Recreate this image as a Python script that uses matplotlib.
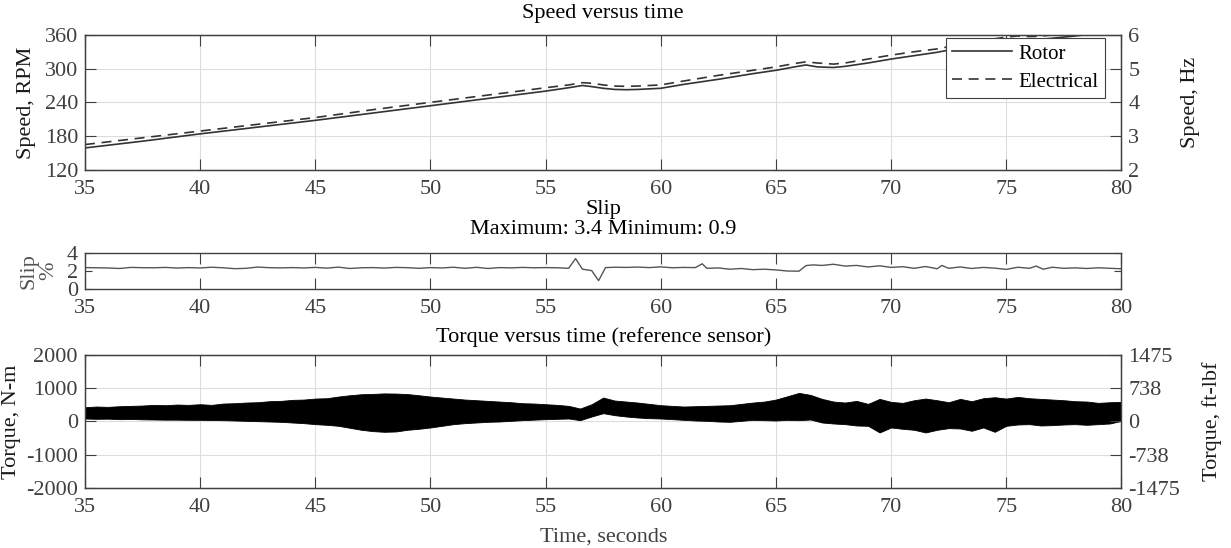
import matplotlib.pyplot as plt
import numpy as np

plt.rcParams['font.family'] = ['Liberation Serif', 'DejaVu Serif']
plt.rcParams['font.size'] = 16
plt.rcParams['axes.unicode_minus'] = False

# speed versus time (RPM)
t_speed = [35, 37.5, 40, 42.5, 45, 47.5, 50, 52.5, 55, 56, 56.6, 57.0, 57.5, 58.0, 58.5, 59.0,
           60, 61, 62.5, 64, 65, 65.8, 66.3, 66.8, 67.5, 68, 69, 70, 71, 72, 73, 74, 75, 75.5,
           76, 76.5, 77, 78, 79, 80]
rotor = [159, 171, 184, 196, 208, 221, 234, 247, 260, 266, 270, 268, 265, 263, 262.5, 263,
         265, 272, 281, 291, 297, 303, 306.5, 303, 302, 304, 310, 317, 323, 329, 337, 344, 350, 352,
         351, 352, 354, 358, 363, 368]
electrical = [165, 177, 189, 201, 213, 227, 240, 253, 266, 271, 275, 274, 271, 269, 268.5, 269,
              271, 278, 288, 297, 303, 309, 312, 310, 308, 310, 317, 324, 330, 335, 343, 350, 356, 358,
              357, 357.5, 360, 364, 369, 374]

# slip in percent
t_slip = [35.0, 35.5, 36.0, 36.5, 37.0, 37.5, 38.0, 38.5, 39.0, 39.5, 40.0, 40.5, 41.0, 41.5,
          42.0, 42.5, 43.0, 43.5, 44.0, 44.5, 45.0, 45.5, 46.0, 46.5, 47.0, 47.5, 48.0, 48.5,
          49.0, 49.5, 50.0, 50.5, 51.0, 51.5, 52.0, 52.5, 53.0, 53.5, 54.0, 54.5, 55.0, 55.5,
          56.0, 56.3, 56.6, 57.0, 57.3, 57.6, 58.0, 58.5, 59.0, 59.5, 60.0, 60.5, 61.0, 61.5,
          61.8, 62.0, 62.5, 63.0, 63.5, 64.0, 64.5, 65.0, 65.5, 66.0, 66.3, 66.6, 67.0, 67.5,
          68.0, 68.5, 69.0, 69.5, 70.0, 70.5, 71.0, 71.5, 72.0, 72.2, 72.5, 73.0, 73.5, 74.0,
          74.5, 75.0, 75.5, 76.0, 76.3, 76.6, 77.0, 77.5, 78.0, 78.5, 79.0, 79.5, 80.0]
slip = [2.38, 2.36, 2.34, 2.28, 2.40, 2.37, 2.36, 2.40, 2.33, 2.38, 2.34, 2.42, 2.36, 2.26,
        2.30, 2.44, 2.37, 2.35, 2.38, 2.34, 2.40, 2.32, 2.43, 2.28, 2.36, 2.38, 2.33, 2.40,
        2.37, 2.30, 2.38, 2.34, 2.42, 2.30, 2.41, 2.28, 2.38, 2.35, 2.40, 2.36, 2.38, 2.36,
        2.30, 3.38, 2.20, 2.05, 0.93, 2.38, 2.42, 2.40, 2.44, 2.38, 2.46, 2.36, 2.40, 2.38,
        2.80, 2.30, 2.34, 2.20, 2.28, 2.15, 2.20, 2.12, 2.00, 1.98, 2.60, 2.68, 2.62, 2.75,
        2.55, 2.62, 2.45, 2.58, 2.40, 2.48, 2.30, 2.50, 2.25, 2.62, 2.30, 2.45, 2.28, 2.40,
        2.32, 2.18, 2.42, 2.30, 2.55, 2.20, 2.42, 2.30, 2.35, 2.28, 2.36, 2.30, 2.25]

# torque band (upper / lower envelope of the oscillation, N-m), every 0.5 s from 35 to 80
t_torque = np.arange(35.0, 80.01, 0.5)
torque_hi = [430, 450, 440, 460, 470, 480, 500, 490, 510, 500, 520, 500, 540, 550, 570, 580,
             610, 620, 650, 660, 690, 700, 750, 790, 820, 830, 845, 840, 825, 790, 750, 720,
             690, 660, 640, 620, 600, 580, 550, 540, 520, 500, 470, 390, 520, 720, 630, 600,
             570, 530, 490, 470, 450, 460, 470, 480, 490, 530, 570, 600, 660, 760, 860, 800,
             680, 600, 570, 620, 530, 680, 590, 560, 640, 690, 640, 580, 680, 610, 700, 730,
             690, 740, 700, 680, 660, 640, 610, 600, 560, 580, 590]
torque_lo = [90, 80, 85, 70, 75, 65, 60, 55, 55, 50, 50, 45, 40, 30, 20, 10,
             0, -10, -30, -50, -80, -100, -130, -190, -250, -290, -310, -300, -250, -220, -180, -130,
             -80, -50, -30, -10, 0, 20, 40, 55, 70, 80, 90, 40, 150, 250, 190, 150,
             120, 100, 90, 70, 50, 30, 20, 0, -10, 20, 50, 40, 30, 50, 40, 60,
             -30, -60, -80, -120, -130, -330, -180, -220, -250, -330, -250, -200, -210, -280, -180, -310,
             -130, -90, -80, -120, -110, -90, -80, -100, -80, -60, 20]

xticks = [35, 40, 45, 50, 55, 60, 65, 70, 75, 80]
axcol = '#404040'
linecol = '#333333'
L, W = 0.069, 0.842


def style(ax, grid=True, right=False):
    ax.set_xlim(35, 80)
    ax.set_xticks(xticks)
    ax.tick_params(direction='in', length=8, width=0.8, top=True, right=right,
                   colors=axcol, labelcolor=axcol, labelsize=16)
    ax.tick_params(axis='x', pad=7)
    ax.tick_params(axis='y', pad=5)
    for s in ax.spines.values():
        s.set_color(axcol)
        s.set_linewidth(1.0)
    if grid:
        ax.grid(True, color='#dddddd', linewidth=0.8)
        ax.set_axisbelow(True)


def style_right(ax):
    ax.tick_params(direction='in', length=8, width=0.8, colors=axcol, labelcolor=axcol,
                   labelsize=16, pad=5)
    for s in ax.spines.values():
        s.set_color(axcol)


fig = plt.figure(figsize=(12.31, 5.48), dpi=100)

# speed
ax1 = fig.add_axes([L, 0.690, W, 0.2464])
ax1.plot(t_speed, rotor, '-', color=linecol, lw=1.2, label='Rotor')
ax1.plot(t_speed, electrical, '--', color=linecol, lw=1.2, dashes=(6, 4), label='Electrical')
ax1.set_ylim(120, 360)
ax1.set_yticks([120, 180, 240, 300, 360])
style(ax1)
ax1.set_ylabel('Speed, RPM', color='#1a1a1a', labelpad=6)
ax1.set_title('Speed versus time', fontsize=16, pad=12)
leg = ax1.legend(loc='upper right', bbox_to_anchor=(0.984, 0.978), borderaxespad=0,
                 fontsize=15, frameon=True, fancybox=False, framealpha=1, edgecolor=axcol,
                 handlelength=2.9, labelspacing=0.4, borderpad=0.3, handletextpad=0.3)
leg.get_frame().set_linewidth(0.8)
ax1r = ax1.twinx()
ax1r.set_ylim(2, 6)
ax1r.set_yticks([2, 3, 4, 5, 6])
style_right(ax1r)
ax1r.set_ylabel('Speed, Hz', color='#1a1a1a', labelpad=30)

# slip
ax2 = fig.add_axes([L, 0.4726, W, 0.0657])
ax2.plot(t_slip, slip, '-', color='#555555', lw=1.0)
ax2.set_ylim(0, 4)
ax2.set_yticks([0, 2, 4])
style(ax2, grid=False, right=True)
ax2.tick_params(axis='y', length=5)
ax2.set_ylabel('Slip\n%', color='#555555', labelpad=6, linespacing=1.1)
ax2.set_title('Slip\nMaximum: %.1f Minimum: %.1f' % (max(slip), min(slip)),
              fontsize=16, pad=14, linespacing=1.05)

# torque
ax3 = fig.add_axes([L, 0.1095, W, 0.2427])
ax3.fill_between(t_torque, torque_lo, torque_hi, color='black', lw=0.6, edgecolor='black')
ax3.set_ylim(-2000, 2000)
ax3.set_yticks([-2000, -1000, 0, 1000, 2000])
style(ax3)
ax3.set_ylabel('Torque, N-m', color='#1a1a1a', labelpad=4)
ax3.set_xlabel('Time, seconds', color=axcol, labelpad=8)
ax3.set_title('Torque versus time (reference sensor)', fontsize=16, pad=9)
ax3r = ax3.twinx()
ax3r.set_ylim(-1475, 1475)
ax3r.set_yticks([-1475, -738, 0, 738, 1475])
style_right(ax3r)
ax3r.set_ylabel('Torque, ft-lbf', color='#1a1a1a', labelpad=16)

fig.savefig('out.png', dpi=100)
